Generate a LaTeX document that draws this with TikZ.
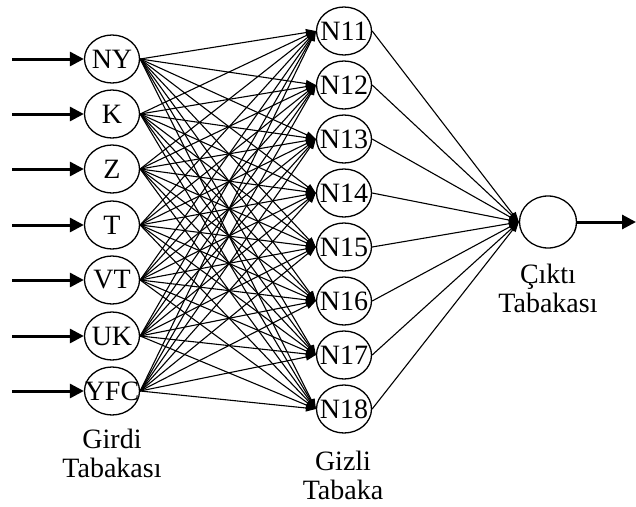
\documentclass[tikz,border=0pt]{standalone}
\usepackage{fontspec}
\setmainfont{Liberation Serif}
\usetikzlibrary{shapes.geometric,arrows.meta}
\begin{document}
\begin{tikzpicture}[x=1pt,y=-1pt,
  neuron/.style={draw,ellipse,line width=1.3pt,minimum width=55pt,minimum height=48pt,inner sep=0pt,font=\fontsize{28}{30}\selectfont},
  lbl/.style={align=center,font=\fontsize{28}{29}\selectfont,inner sep=0pt},
  conn/.style={line width=1.1pt,-{Triangle[length=10pt,width=7pt]}},
  bigarrow/.style={line width=3pt,-{Triangle[length=14pt,width=14pt]}}]
\useasboundingbox (0,0) rectangle (636,506);
% input layer
\foreach \n/\t/\y in {i1/NY/59,i2/K/114,i3/Z/169,i4/T/225,i5/VT/280,i6/UK/336,i7/YFC/391}{
  \node[neuron] (\n) at (112,\y) {\makebox[30pt]{\t}};
  \coordinate (s\n) at (12,\y);
  \draw[bigarrow] (s\n) -- (\n.west);
}
% hidden layer
\foreach \k/\y in {1/31,2/85,3/139,4/193,5/247,6/301,7/355,8/409}{
  \node[neuron] (h\k) at (344,\y) {\makebox[30pt]{N1\k}};
}
% output
\node[neuron,minimum width=57pt,minimum height=52pt] (o) at (548,222) {};
\coordinate (oe) at (636,222);
\draw[bigarrow] (o.east) -- (oe);
% connections
\foreach \i in {1,...,7}{
  \foreach \k in {1,...,8}{
    \draw[conn] (i\i.east) -- (h\k.west);
  }
}
\foreach \k in {1,...,8}{
  \draw[conn] (h\k.east) -- (o.west);
}
% labels
\node[lbl] (lg) at (112,453) {Girdi\\Tabakası};
\node[lbl] (lh) at (343,475) {Gizli\\Tabaka};
\node[lbl] (lo) at (548,288) {Çıktı\\Tabakası};
\end{tikzpicture}
\end{document}
